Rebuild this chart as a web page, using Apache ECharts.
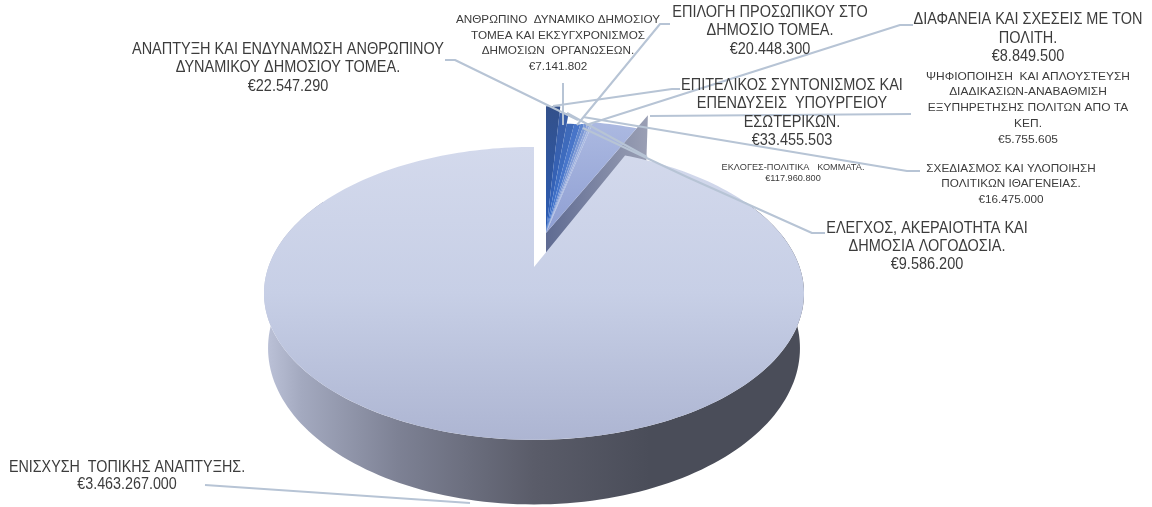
<!DOCTYPE html>
<html><head><meta charset="utf-8">
<style>html,body{margin:0;padding:0;background:#fff}#c{width:1152px;height:507px}</style>
<script src="https://cdn.jsdelivr.net/npm/echarts@6/dist/echarts.min.js"></script>
</head><body><div id="c"></div>
<script>
// Clockwise from 12 o'clock
const categories = [
  "ΕΠΙΤΕΛΙΚΟΣ ΣΥΝΤΟΝΙΣΜΟΣ ΚΑΙ\nΕΠΕΝΔΥΣΕΙΣ  ΥΠΟΥΡΓΕΙΟΥ\nΕΣΩΤΕΡΙΚΩΝ.",
  "ΑΝΑΠΤΥΞΗ ΚΑΙ ΕΝΔΥΝΑΜΩΣΗ ΑΝΘΡΩΠΙΝΟΥ\nΔΥΝΑΜΙΚΟΥ ΔΗΜΟΣΙΟΥ ΤΟΜΕΑ.",
  "ΕΠΙΛΟΓΗ ΠΡΟΣΩΠΙΚΟΥ ΣΤΟ\nΔΗΜΟΣΙΟ ΤΟΜΕΑ.",
  "ΣΧΕΔΙΑΣΜΟΣ ΚΑΙ ΥΛΟΠΟΙΗΣΗ\nΠΟΛΙΤΙΚΩΝ ΙΘΑΓΕΝΕΙΑΣ.",
  "ΕΛΕΓΧΟΣ, ΑΚΕΡΑΙΟΤΗΤΑ ΚΑΙ\nΔΗΜΟΣΙΑ ΛΟΓΟΔΟΣΙΑ.",
  "ΔΙΑΦΑΝΕΙΑ ΚΑΙ ΣΧΕΣΕΙΣ ΜΕ ΤΟΝ\nΠΟΛΙΤΗ.",
  "ΑΝΘΡΩΠΙΝΟ  ΔΥΝΑΜΙΚΟ ΔΗΜΟΣΙΟΥ\nΤΟΜΕΑ ΚΑΙ ΕΚΣΥΓΧΡΟΝΙΣΜΟΣ\nΔΗΜΟΣΙΩΝ  ΟΡΓΑΝΩΣΕΩΝ.",
  "ΨΗΦΙΟΠΟΙΗΣΗ  ΚΑΙ ΑΠΛΟΥΣΤΕΥΣΗ\nΔΙΑΔΙΚΑΣΙΩΝ-ΑΝΑΒΑΘΜΙΣΗ\nΕΞΥΠΗΡΕΤΗΣΗΣ ΠΟΛΙΤΩΝ ΑΠΟ ΤΑ\nΚΕΠ.",
  "ΕΚΛΟΓΕΣ-ΠΟΛΙΤΙΚΑ   ΚΟΜΜΑΤΑ.",
  "ΕΝΙΣΧΥΣΗ  ΤΟΠΙΚΗΣ ΑΝΑΠΤΥΞΗΣ."
];
const values = [33455503, 22547290, 20448300, 16475000, 9586200, 8849500, 7141802, 5755605, 117960800, 3463267000];
const valueLabels = ["€33.455.503","€22.547.290","€20.448.300","€16.475.000","€9.586.200","€8.849.500","€7.141.802","€5.755.605","€117.960.800","€3.463.267.000"];

// Presentation only
const sliceRadius = [1.066, 1.0, 0.9, 0.9, 0.905, 0.91, 0.91, 0.91, 0.93, 1];
const sliceColors = [
  ['#33508a','#2b5cb4'], ['#3c5fa6','#2f63c0'], ['#4068b4','#3a70cc'], ['#4773c6','#4a7ad0'],
  ['#5c84cc','#6a8ed4'], ['#7a97d4','#86a0da'], ['#93a9dc','#98acdc'], ['#a9bae2','#a4b4de'],
  ['#b0bde3','#8f9fd3']
];
const labelBoxes = [ // x, y, font size, horizontal scale, line height
  [792,113,16,0.905,18.5],[288,68,16,0.905,18.5],[770,31,16,0.905,18.5],[1011,184,11.5,1.02,15.5],
  [927,247,16,0.905,18],[1028,38.5,16,0.905,18.5],[558,43.5,11.5,1.02,15.5],[1028,108,11.5,1.04,15.8],
  [793,173,8.5,1.08,10.5],[127,476,16,0.895,16.5]
];
const leaders = [
  [[680,89],[672,89],[553,106]],[[445,60],[455,60],[578,120]],[[670,24],[660,24],[577,125]],
  [[920,171],[907,171],[583,117]],[[825,233],[812,233],[687,177],[583,128]],[[913,25],[900,25],[586,125]],
  [[563,83],[563,125]],[[911,114],[650,116]],[[647,157],[567,113]],[[205,485],[470,503]]
];

const total = values.reduce((a,b)=>a+b,0);
const starts = []; { let s=0; values.forEach(v=>{starts.push(s); s+=v/total*360;}); }
const K=0.18, S=141.7, R=265.6, D=53;
const MAIN=values.length-1, WEDGE_X=1.06, FLOOR_X=0.985;
function proj(apex, r, deg, down, xs){
  const t=deg*Math.PI/180, u=r*Math.sin(t), v=-r*Math.cos(t), w=1-K*v;
  return [apex[0]+(xs||1)*(down?FLOOR_X:1)*R*u/w, apex[1]+S*v/w+(down?D/w:0)];
}
function arc(apex,r,a,b,down,xs){
  const n=Math.max(2,Math.ceil(Math.abs(b-a)/1.5)), out=[];
  for(let i=0;i<=n;i++) out.push(proj(apex,r,a+(b-a)*i/n,down,xs));
  return out;
}
const LG=echarts.graphic.LinearGradient;
function renderSlice(params, api){
  const i=params.dataIndex, val=api.value(0);
  const a=starts[i], b=a+val/total*360, r=sliceRadius[i];
  const kids=[];
  if(i===MAIN){
    const apex=[534,267];
    const front=arc(apex,1,60,300,false).concat(arc(apex,1,300,60,true));
    kids.push({type:'polygon',shape:{points:front},style:{fill:new LG(263,0,650,0,[
      {offset:0,color:'#bec4da'},{offset:.1,color:'#a3a9bf'},{offset:.35,color:'#7d8194'},
      {offset:.7,color:'#5a5c69'},{offset:1,color:'#4a4d59'}],true)}});
    kids.push({type:'polygon',shape:{points:[apex].concat(arc(apex,1,a,b,false))},style:{fill:new LG(0,147,0,440,[
      {offset:0,color:'#d3d9ec'},{offset:.5,color:'#c7cfe6'},{offset:1,color:'#adb5d2'}],true)}});
  } else {
    const apex=[546,233];
    if(i===MAIN-1){
      const tip=proj(apex,1.066,b,false,WEDGE_X), low=proj(apex,1.066,b,true,WEDGE_X);
      const ad=[apex[0],apex[1]+D];
      kids.push({type:'polygon',shape:{points:[apex,tip,low,ad]},style:{fill:new LG(tip[0],0,apex[0],0,[
        {offset:0,color:'#9a9fb4'},{offset:1,color:'#5f6b92'}],true)}});
    }
    const c=sliceColors[i];
    kids.push({type:'polygon',shape:{points:[apex].concat(arc(apex,r,a,b,false,WEDGE_X))},style:{fill:new LG(0,233,0,105,[
      {offset:0,color:c[1]},{offset:1,color:c[0]}],true)}});
  }
  return {type:'group',children:kids};
}
const graphics=[];
leaders.forEach(pts=>graphics.push({type:'polyline',z:50,shape:{points:pts},
  style:{stroke:'#b7c4d5',lineWidth:2,fill:null,lineJoin:'round'}}));
categories.forEach((t,i)=>{
  const b=labelBoxes[i];
  graphics.push({type:'text',z:60,x:b[0],y:b[1],scaleX:b[3],style:{
    text:t+'\n'+valueLabels[i],align:'center',verticalAlign:'middle',fill:'#3c3c3c',
    font:b[2]+'px "Liberation Sans", Arial, sans-serif',lineHeight:b[4]}});
});
const chart=echarts.init(document.getElementById('c'),null,{renderer:'canvas'});
chart.setOption({
  animation:false,
  backgroundColor:'#fff',
  graphic:{elements:graphics},
  series:[{type:'custom',coordinateSystem:'none',silent:true,clip:false,
    renderItem:renderSlice,data:values.map(v=>[v])}]
});
</script></body></html>
